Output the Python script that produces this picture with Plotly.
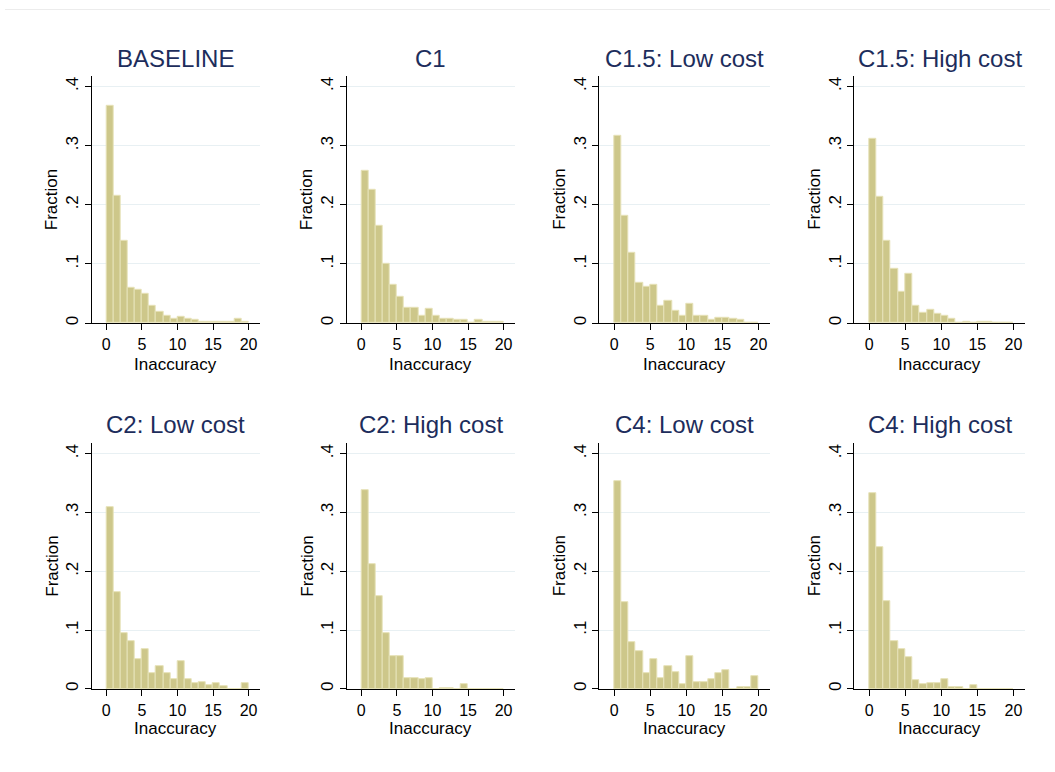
import plotly.graph_objects as go

# Histogram bins: width 1, left edges 0..19
bin_left = list(range(20))

panel_titles = [
    "BASELINE", "C1", "C1.5: Low cost", "C1.5: High cost",
    "C2: Low cost", "C2: High cost", "C4: Low cost", "C4: High cost",
]

baseline = [0.367, 0.216, 0.139, 0.059, 0.057, 0.050, 0.029, 0.020, 0.013, 0.007,
            0.011, 0.008, 0.005, 0.003, 0.002, 0.003, 0.002, 0.002, 0.007, 0.002]
c1 = [0.258, 0.226, 0.165, 0.101, 0.065, 0.044, 0.026, 0.026, 0.013, 0.025,
      0.013, 0.008, 0.008, 0.005, 0.005, 0.001, 0.005, 0.003, 0.002, 0.003]
c15_low = [0.316, 0.182, 0.119, 0.069, 0.061, 0.064, 0.029, 0.038, 0.021, 0.012,
           0.032, 0.012, 0.012, 0.006, 0.009, 0.009, 0.007, 0.006, 0.0, 0.0]
c15_high = [0.311, 0.213, 0.140, 0.092, 0.053, 0.084, 0.029, 0.017, 0.023, 0.015,
            0.012, 0.007, 0.001, 0.002, 0.0, 0.002, 0.002, 0.0, 0.0, 0.0]
c2_low = [0.309, 0.165, 0.095, 0.082, 0.050, 0.068, 0.027, 0.038, 0.027, 0.016,
          0.048, 0.017, 0.009, 0.011, 0.006, 0.009, 0.004, 0.0, 0.0, 0.009]
c2_high = [0.338, 0.212, 0.157, 0.095, 0.056, 0.055, 0.019, 0.019, 0.016, 0.019,
           0.0, 0.001, 0.001, 0.0, 0.008, 0.0, 0.0, 0.0, 0.0, 0.0]
c4_low = [0.354, 0.147, 0.080, 0.065, 0.027, 0.050, 0.019, 0.038, 0.028, 0.008,
          0.055, 0.011, 0.011, 0.017, 0.027, 0.032, 0.0, 0.003, 0.003, 0.021]
c4_high = [0.333, 0.241, 0.150, 0.082, 0.068, 0.054, 0.015, 0.008, 0.010, 0.010,
           0.016, 0.003, 0.003, 0.0, 0.006, 0.0, 0.0, 0.0, 0.0, 0.0]

series = [baseline, c1, c15_low, c15_high, c2_low, c2_high, c4_low, c4_high]

x_tickvals = [0, 5, 10, 15, 20]
y_tickvals = [0, 0.1, 0.2, 0.3, 0.4]
y_ticktext = ["0", ".1", ".2", ".3", ".4"]

W, H = 1055, 772
FONT = "Liberation Sans, Arial, sans-serif"
BAR_FILL = "rgb(205,199,138)"
BAR_EDGE = "rgb(230,226,184)"
GRID = "rgb(232,240,243)"
TITLE_COLOR = "#1d2d5c"

# plot-area columns (left, right) and rows (top, bottom) in pixels
cols_px = [(91.7, 260.0), (346.7, 515.0), (599.3, 770.0), (854.3, 1025.0)]
rows_px = [(76.0, 324.0), (444.3, 690.7)]

fig = go.Figure()
annotations = []

for i, (title, vals) in enumerate(zip(panel_titles, series)):
    r, c = divmod(i, 4)
    x0, x1 = cols_px[c]
    top, bot = rows_px[r]
    idx = "" if i == 0 else str(i + 1)
    xa, ya = "x" + idx, "y" + idx

    fig.add_trace(go.Bar(
        x=bin_left, y=vals, width=1, offset=0,
        marker=dict(color=BAR_FILL, line=dict(color=BAR_EDGE, width=1)),
        xaxis=xa, yaxis=ya, showlegend=False, hoverinfo="x+y",
    ))

    fig.layout["xaxis" + idx] = dict(
        domain=[x0 / W, x1 / W], anchor=ya, range=[-2.05, 21.6],
        tickvals=x_tickvals, ticks="outside", ticklen=6, tickwidth=1,
        tickcolor="black", showline=True, linecolor="black", linewidth=1,
        showgrid=False, zeroline=False, ticklabelstandoff=1,
        tickfont=dict(family=FONT, size=16, color="black"),
    )
    fig.layout["yaxis" + idx] = dict(
        domain=[1 - bot / H, 1 - top / H], anchor=xa, range=[0, 0.418],
        tickvals=y_tickvals, ticktext=y_ticktext, tickangle=-90,
        ticks="outside", ticklen=6, tickwidth=1, tickcolor="black",
        showline=True, linecolor="black", linewidth=1,
        showgrid=True, gridcolor=GRID, gridwidth=1, zeroline=False,
        tickfont=dict(family=FONT, size=17, color="black"),
    )

    cx = (x0 + x1) / 2 / W
    title_y = 59 if r == 0 else 426
    annotations.append(dict(
        text=title, x=cx, y=1 - title_y / H, xref="paper", yref="paper",
        xanchor="center", yanchor="middle", showarrow=False,
        font=dict(family=FONT, size=24, color=TITLE_COLOR),
    ))
    xt_y = 365 if r == 0 else 730.5
    annotations.append(dict(
        text="Inaccuracy", x=cx, y=1 - xt_y / H, xref="paper", yref="paper",
        xanchor="center", yanchor="middle", showarrow=False,
        font=dict(family=FONT, size=17, color="black"),
    ))
    annotations.append(dict(
        text="Fraction", x=(x0 - 40) / W, y=1 - (top + bot) / 2 / H,
        xref="paper", yref="paper", xanchor="center", yanchor="middle",
        textangle=-90, showarrow=False,
        font=dict(family=FONT, size=17, color="black"),
    ))

fig.update_layout(
    width=W, height=H, margin=dict(l=0, r=0, t=0, b=0),
    paper_bgcolor="white", plot_bgcolor="white",
    bargap=0, annotations=annotations,
    shapes=[dict(type="line", xref="paper", yref="paper",
                 x0=5 / W, x1=1050 / W, y0=1 - 9.5 / H, y1=1 - 9.5 / H,
                 line=dict(color="rgb(236,236,236)", width=1))],
)

fig.write_html("out.html")
